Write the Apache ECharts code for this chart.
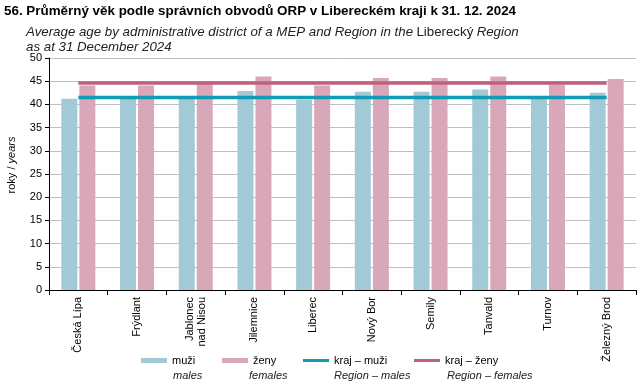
<!DOCTYPE html>
<html><head><meta charset="utf-8">
<script src="https://cdn.jsdelivr.net/npm/echarts@6/dist/echarts.min.js"></script>
<style>html,body{margin:0;padding:0;background:#fff}#c{width:642px;height:386px}</style>
</head><body><div id="c"></div>
<script>
const categories = ['Česká Lípa','Frýdlant','Jablonec\nnad Nisou','Jilemnice','Liberec','Nový Bor','Semily','Tanvald','Turnov','Železný Brod'];
const males = [41.2, 41.4, 41.4, 42.9, 41.0, 42.7, 42.7, 43.2, 41.3, 42.5];
const females = [44.1, 44.1, 44.4, 46.0, 44.1, 45.7, 45.7, 46.0, 44.3, 45.5];
const regionMales = 41.5;
const regionFemales = 44.6;
const yTicks = [0, 5, 10, 15, 20, 25, 30, 35, 40, 45, 50];
const seriesNames = ['muži', 'ženy', 'kraj – muži', 'kraj – ženy'];
const seriesNamesEn = ['males', 'females', 'Region – males', 'Region – females'];

const FONT = 'Liberation Sans, Arial, sans-serif';
const C_M = '#a1c9d6', C_F = '#d8a8b8', C_LM = '#119bb5', C_LF = '#c0607f';

const chart = echarts.init(document.getElementById('c'), null, {renderer: 'canvas'});
const legendX = [141, 222, 303, 414];
const legendEnX = [173, 249, 334, 447];

chart.setOption({
  animation: false,
  textStyle: {fontFamily: FONT},
  grid: {left: 49, right: 6, top: 58, bottom: 96, containLabel: false},
  legend: seriesNames.map((n, i) => ({
    data: [n], left: legendX[i], top: 355, padding: 0,
    itemWidth: 26, itemHeight: i < 2 ? 5 : 3, itemGap: 0, icon: 'rect',
    textStyle: {fontFamily: FONT, fontSize: 11, color: '#000', padding: [0, 0, 0, 0]},
    selectedMode: false
  })),
  graphic: [
    {type: 'text', left: 4, top: 5, style: {text: '56. Průměrný věk podle správních obvodů ORP v Libereckém kraji k 31. 12. 2024', font: 'bold 13.4px ' + FONT, fill: '#000'}},
    {type: 'text', left: 26, top: 26, style: {
      text: '{i|Average age by administrative district of a MEP and Region in the} {n|Liberecký} {i|Region}\n{i|as at 31 December 2024}',
      rich: {i: {font: 'italic 13.3px ' + FONT, fill: '#222', lineHeight: 15}, n: {font: '13.3px ' + FONT, fill: '#222', lineHeight: 15}}
    }},
    {type: 'text', x: 12, y: 165, rotation: Math.PI / 2, style: {
      text: '{n|roky / }{i|years}', align: 'center', verticalAlign: 'middle',
      rich: {n: {font: '11px ' + FONT, fill: '#000'}, i: {font: 'italic 11px ' + FONT, fill: '#000'}}
    }}
  ].concat(seriesNamesEn.map((t, i) => ({
    type: 'text', left: legendEnX[i], top: 370,
    style: {text: t, font: 'italic 11px ' + FONT, fill: '#222'}
  }))),
  xAxis: {
    type: 'category', data: categories, boundaryGap: true,
    axisLine: {lineStyle: {color: '#000', width: 1}},
    axisTick: {show: true, length: 5, interval: 0, lineStyle: {color: '#000'}},
    axisLabel: {rotate: 90, interval: 0, margin: 7, fontSize: 11, color: '#000', fontFamily: FONT, lineHeight: 12}
  },
  yAxis: {
    type: 'value', min: 0, max: 50, interval: 5,
    axisLine: {show: true, lineStyle: {color: '#000'}},
    axisTick: {show: true, length: 4, lineStyle: {color: '#000'}},
    axisLabel: {fontSize: 11, color: '#000', margin: 7, fontFamily: FONT,
      formatter: v => yTicks.includes(v) ? String(v) : ''},
    splitLine: {lineStyle: {color: '#bfbfbf', width: 1}}
  },
  series: [
    {name: seriesNames[0], type: 'bar', data: males, barWidth: 16, barGap: '12.5%', itemStyle: {color: C_M}, z: 2},
    {name: seriesNames[1], type: 'bar', data: females, barWidth: 16, barGap: '12.5%', itemStyle: {color: C_F}, z: 2},
    {name: seriesNames[2], type: 'line', data: categories.map(() => regionMales), symbol: 'none', lineStyle: {color: C_LM, width: 3.5}, itemStyle: {color: C_LM}, z: 5},
    {name: seriesNames[3], type: 'line', data: categories.map(() => regionFemales), symbol: 'none', lineStyle: {color: C_LF, width: 3.5}, itemStyle: {color: C_LF}, z: 5}
  ]
});
</script></body></html>
